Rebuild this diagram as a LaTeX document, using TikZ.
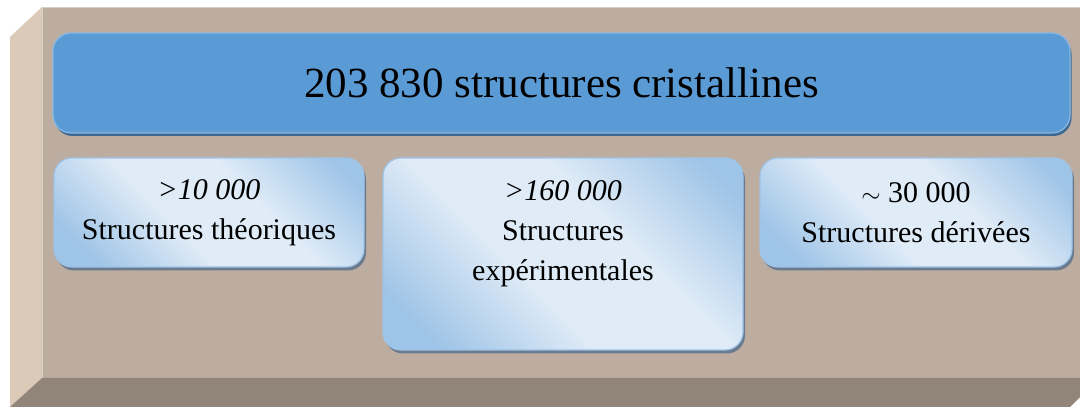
\documentclass[tikz,border=0pt]{standalone}
\usepackage{fontspec}
\setmainfont{Liberation Serif}
\usepackage{xcolor}
\usetikzlibrary{shadows, calc}
\definecolor{panel}{HTML}{BCADA0}
\definecolor{panelside}{HTML}{DCCAB9}
\definecolor{panelbottom}{HTML}{918579}
\definecolor{titleblue}{HTML}{5B9BD5}
\definecolor{titleedge}{HTML}{8AB8E4}
\definecolor{titleshadow}{HTML}{3E6891}
\definecolor{boxlight}{HTML}{DFEBF7}
\definecolor{boxdark}{HTML}{9EC4E7}
\definecolor{boxshadow}{HTML}{6B7B8D}
\pgfdeclarehorizontalshading{boxshade}{100bp}{color(0bp)=(boxdark); color(22bp)=(boxdark); color(42bp)=(boxlight); color(60bp)=(boxlight); color(80bp)=(boxdark); color(100bp)=(boxdark)}

\begin{document}
\begin{tikzpicture}[x=1pt, y=1pt,
    titlebox/.style={rounded corners=18pt, fill=titleblue, draw=titleedge, line width=1.2pt,
        minimum width=1017pt, minimum height=100pt, inner sep=0pt,
        drop shadow={shadow xshift=1.5pt, shadow yshift=-3pt, fill=titleshadow, opacity=1},
        font=\fontsize{43}{48}\selectfont},
    countbox/.style={rounded corners=18pt, shading=boxshade, shading angle=45, draw=boxdark, line width=1.2pt,
        minimum height=109pt, inner sep=0pt,
        drop shadow={shadow xshift=2pt, shadow yshift=-3.5pt, fill=boxshadow, opacity=1}},
    counttext/.style={align=center, font=\fontsize{30}{40}\selectfont}]
    \useasboundingbox (0,0) rectangle (1080,407);

    % Panel
    \fill[panel] (42,29) rectangle (1080,400);
    \fill[panelside] (10,370) -- (42,400) -- (42,29) -- (10,0) -- cycle;
    \fill[panelbottom] (42,29) -- (1080,29) -- (1080,10) -- (1070,0) -- (10,0) -- cycle;
    \draw[panel!60!white, line width=0.8pt] (42,29) -- (42,400) -- (1080,400);

    % Total
    \node[titlebox] (total) at (561.5,324) {203 830 structures cristallines};

    % Three groups
    \node[countbox, minimum width=310pt] (theo) at (209,194.5) {};
    \node[counttext] (theotext) at (theo.center) {\textit{>10 000}\\Structures théoriques};

    \node[countbox, minimum width=360pt, minimum height=192pt] (exp) at (563,153) {};
    \node[counttext] (exptext) at ([yshift=20pt]exp.center) {\textit{>160 000}\\Structures\\expérimentales};

    \node[countbox, minimum width=312pt] (deriv) at (916,194.5) {};
    \node[counttext] (derivtext) at (deriv.center) {$\sim$ 30 000\\Structures dérivées};
\end{tikzpicture}
\end{document}
